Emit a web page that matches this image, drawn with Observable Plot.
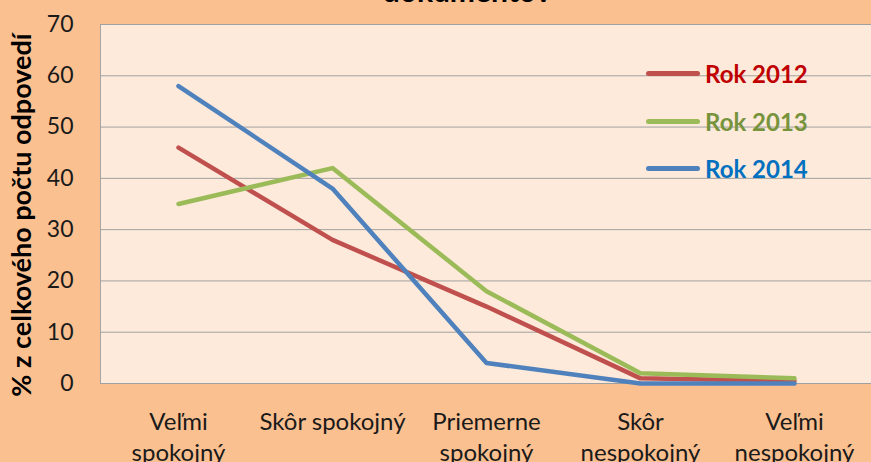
<!DOCTYPE html>
<html>
<head>
<meta charset="utf-8">
<script src="https://cdn.jsdelivr.net/npm/d3@7"></script>
<script src="https://cdn.jsdelivr.net/npm/@observablehq/plot@0.6"></script>
<style>
  html, body { margin: 0; padding: 0; background: #FAC090; }
  #wrap { position: relative; width: 871px; height: 462px; overflow: hidden; background: #FAC090; font-family: Lato, "Open Sans", sans-serif; }
  #title { position: relative; height: 8px; overflow: hidden; }
  #title div { position: absolute; top: -25px; left: 0; width: 934px; text-align: center; font-size: 30px; line-height: 30px; font-weight: bold; color: #000; }
  .leg { position: absolute; left: 646px; height: 30px; display: flex; align-items: center; font-weight: bold; font-size: 24px; }
  .leg span.sw { display: inline-block; width: 54px; height: 5px; border-radius: 3px; margin-right: 5px; }
  svg { display: block; }
</style>
</head>
<body>
<div id="wrap">
  <div id="title"><div>dokumentov</div></div>
  <div id="chart"></div>
  <div id="legend"></div>
</div>
<script>
const categories = ["Veľmi\nspokojný", "Skôr spokojný", "Priemerne\nspokojný", "Skôr\nnespokojný", "Veľmi\nnespokojný"];
const years = ["Rok 2012", "Rok 2013", "Rok 2014"];
const values2012 = [46, 28, 15, 1, 0.5];
const values2013 = [35, 42, 18, 2, 1];
const values2014 = [58, 38, 4, 0, 0];
const yTicks = [0, 10, 20, 30, 40, 50, 60, 70];
const yLabel = "% z celkového počtu odpovedí";
const lineColors = ["#C0504D", "#9BBB59", "#4F81BD"];
const textColors = ["#C00000", "#77933C", "#0070C0"];

const series = [values2012, values2013, values2014];
const data = years.flatMap((yr, i) => categories.map((c, j) => ({cat: c, year: yr, value: series[i][j]})));

const chart = Plot.plot({
  width: 871,
  height: 454,
  marginTop: 16,
  marginBottom: 79,
  marginLeft: 100,
  marginRight: 0,
  style: {background: "transparent", fontFamily: "Lato, 'Open Sans', sans-serif", overflow: "visible"},
  x: {type: "point", domain: categories, padding: 0.5, label: null},
  y: {domain: [0, 70], label: null},
  color: {domain: years, range: lineColors},
  marks: [
    Plot.frame({fill: "#FDEADA", stroke: "#A6A6A6"}),
    Plot.gridY(yTicks, {stroke: "#A0A0A0", strokeOpacity: 1}),
    Plot.axisY(yTicks, {tickSize: 0, tickPadding: 27, fontSize: 23, fill: "#1a1a1a"}),
    Plot.axisX({tickSize: 0, tickPadding: 24, fontSize: 24, lineHeight: 1.3, fill: "#1a1a1a", tickFormat: d => d}),
    Plot.line(data, {x: "cat", y: "value", stroke: "year", strokeWidth: 4.5, strokeLinecap: "round", strokeLinejoin: "round"}),
    Plot.text([yLabel], {frameAnchor: "left", textAnchor: "middle", lineAnchor: "middle", rotate: -90, dx: -78, dy: 11, fontSize: 27, fontWeight: "bold", fill: "#000"})
  ]
});
document.getElementById("chart").appendChild(chart);

const legend = document.getElementById("legend");
const legendTops = [58, 106, 153];
years.forEach((yr, i) => {
  const row = document.createElement("div");
  row.className = "leg";
  row.style.top = legendTops[i] + "px";
  row.style.color = textColors[i];
  const sw = document.createElement("span");
  sw.className = "sw";
  sw.style.background = lineColors[i];
  row.appendChild(sw);
  row.appendChild(document.createTextNode(yr));
  legend.appendChild(row);
});
</script>
</body>
</html>
